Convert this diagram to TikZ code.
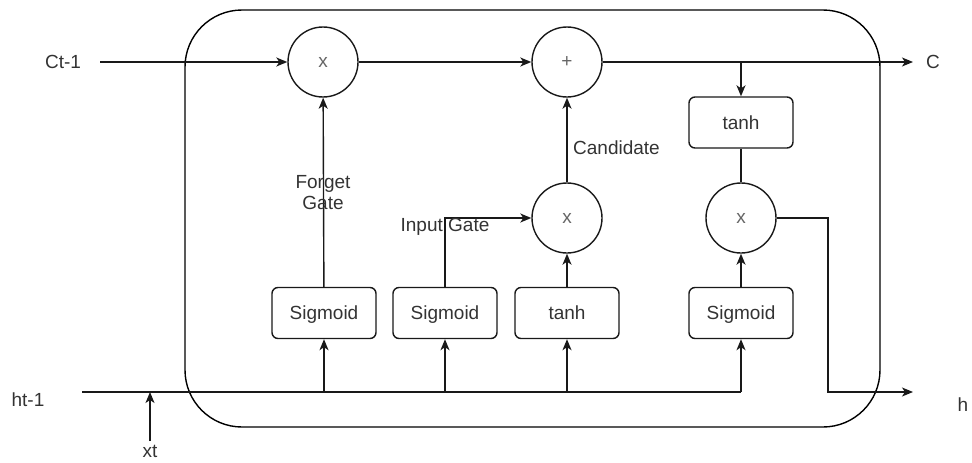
\documentclass[tikz,border=0pt]{standalone}
\usepackage{fontspec}
\setmainfont{Liberation Sans}
\usetikzlibrary{arrows.meta}
\begin{document}
\begin{tikzpicture}[x=1pt,y=-1pt,
  every node/.style={font=\fontsize{19}{23}\selectfont, text=black!80, inner sep=0pt},
  wire/.style={line width=1.4pt, draw=black!90},
  flow/.style={wire, -{Stealth[length=11pt,width=9pt,inset=3pt]}},
  op/.style={circle, draw=black!90, line width=1.4pt, minimum size=70pt, text=black!60},
  fn/.style={draw=black!90, line width=1.4pt, rounded corners=6pt, minimum width=104pt, minimum height=51pt, text height=13pt, text depth=0pt}]
  \useasboundingbox (0,0) rectangle (972,463);

  % cell boundary
  \draw[line width=1.4pt, rounded corners=57pt] (185,10) rectangle (880,427);

  % pointwise operators
  \node[op] (m1) at (323,62) {x};
  \node[op] (add) at (567,62) {+};
  \node[op] (m2) at (567,218) {x};
  \node[op] (m3) at (741,218) {x};

  % activation layers
  \node[fn] (sf) at (324,313) {Sigmoid};
  \node[fn] (si) at (445,313) {Sigmoid};
  \node[fn] (tc) at (567,313) {tanh};
  \node[fn] (so) at (741,313) {Sigmoid};
  \node[fn] (tout) at (741,122.5) {tanh};

  % outer labels
  \node (cprev) at (63,62) {Ct-1};
  \node (cnext) at (933,62) {C};
  \node (hprev) at (28,400) {ht-1};
  \node (hnext) at (963,405) {h};
  \node (xt) at (150,451) {xt};

  % junction points
  \coordinate (cin) at (100,62);
  \coordinate (cout) at (913,62);
  \coordinate (cbr) at (741,62);
  \coordinate (hin) at (82,392);
  \coordinate (hend) at (741,392);
  \coordinate (xin) at (150,441);
  \coordinate (xj) at (150,392);
  \coordinate (hcorner) at (828,218);
  \coordinate (hlow) at (828,392);
  \coordinate (hout) at (913,392);
  \coordinate (igc) at (445,218);

  % cell state path
  \draw[flow] (cin) -- (m1);
  \draw[flow] (m1) -- (add);
  \draw[flow] (add) -- (cout);
  \draw[flow] (cbr) -- (tout);
  \draw[wire] (tout) -- (m3);

  % hidden state / input bus
  \draw[wire] (hin) -- (hend);
  \draw[flow] (xin) -- (xj);
  \foreach \b in {sf,si,tc,so}
    \draw[flow] (\b.south |- hin) -- (\b.south);

  % gate connections
  \draw[flow] (sf) -- (m1);
  \draw[flow] (si) -- (igc) -- (m2);
  \draw[flow] (tc) -- (m2);
  \draw[flow] (m2) -- (add);
  \draw[flow] (so) -- (m3);
  \draw[flow] (m3) -- (hcorner) -- (hlow) -- (hout);

  % connector labels
  \node[align=center] (fg) at (323,193) {Forget\\[-2pt]Gate};
  \node (ig) at (445,227) {Input Gate};
  \node[anchor=west] (cand) at (573,148) {Candidate};
\end{tikzpicture}
\end{document}
